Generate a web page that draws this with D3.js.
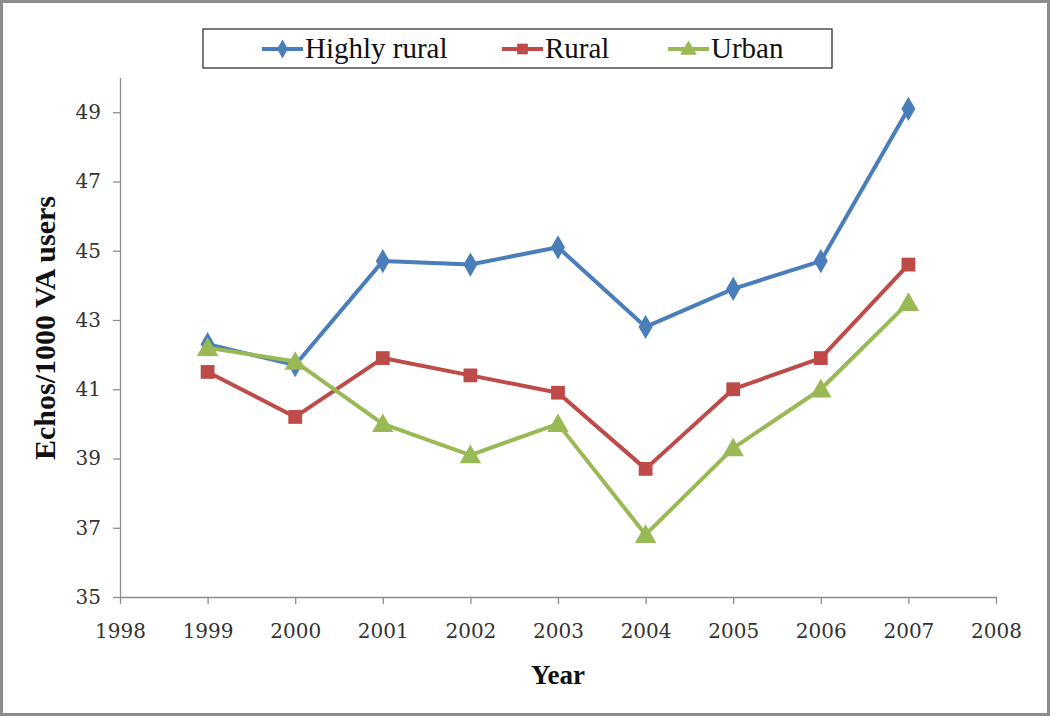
<!DOCTYPE html>
<html><head><meta charset="utf-8">
<script src="https://cdn.jsdelivr.net/npm/d3@7"></script>
<style>body{margin:0;background:#fff}svg{display:block}</style>
</head><body>
<svg id="c" width="1050" height="716"></svg>
<script>
const years = [1999,2000,2001,2002,2003,2004,2005,2006,2007];
const highlyRural = [42.3,41.7,44.7,44.6,45.1,42.8,43.9,44.7,49.1];
const rural = [41.5,40.2,41.9,41.4,40.9,38.7,41.0,41.9,44.6];
const urban = [42.2,41.8,40.0,39.1,40.0,36.8,39.3,41.0,43.5];
const seriesNames = ["Highly rural","Rural","Urban"];
const xTicks = [1998,1999,2000,2001,2002,2003,2004,2005,2006,2007,2008];
const yTicks = [35,37,39,41,43,45,47,49];

const svg = d3.select("#c");
const W=1050,H=716;
svg.append("rect").attr("x",1.5).attr("y",1.5).attr("width",W-3).attr("height",H-3)
  .attr("fill","#fff").attr("stroke","#8c8c8c").attr("stroke-width",3);

const x = d3.scaleLinear().domain([1998,2008]).range([120,996]);
const y = d3.scaleLinear().domain([35,50]).range([597,77.6]);
const serif = "'DejaVu Serif', serif";

const xAxis = svg.append("g").attr("transform","translate(0,597)")
  .call(d3.axisBottom(x).tickValues(xTicks).tickFormat(d3.format("d")).tickSize(7).tickSizeOuter(0));
const yAxis = svg.append("g").attr("transform","translate(120,0)")
  .call(d3.axisLeft(y).tickValues(yTicks).tickSize(7).tickSizeOuter(0));
[xAxis,yAxis].forEach(a=>{
  a.selectAll("path,line").attr("stroke","#8c8c8c").attr("stroke-width",1.3);
  a.selectAll("text").attr("font-family",serif).attr("font-size",20).attr("fill","#333");
});
xAxis.selectAll("text").attr("dy","1.55em");
yAxis.selectAll("text").attr("dx","-0.45em");

svg.append("text").attr("x",558).attr("y",684).attr("text-anchor","middle")
  .attr("font-family","'Liberation Serif', serif").attr("font-weight","bold").attr("font-size",27)
  .attr("fill","#111").text("Year");
svg.append("text").attr("transform","translate(55,328) rotate(-90)").attr("text-anchor","middle")
  .attr("font-family","'Liberation Serif', serif").attr("font-weight","bold").attr("font-size",30)
  .attr("fill","#111").text("Echos/1000 VA users");

const colors = ["#4a7ebb","#be4b48","#98b954"];
const data = [highlyRural,rural,urban];
const symbols = [d3.symbolDiamond, d3.symbolSquare, d3.symbolTriangle];
const symSizes = [170,190,200];
const line = d3.line().x((d,i)=>x(years[i])).y(d=>y(d));

data.forEach((s,k)=>{
  svg.append("path").datum(s).attr("d",line).attr("fill","none")
    .attr("stroke",colors[k]).attr("stroke-width",4).attr("stroke-linejoin","round");
});
data.forEach((s,k)=>{
  svg.append("g").selectAll("path").data(s).join("path")
    .attr("transform",(d,i)=>`translate(${x(years[i])},${y(d)+(k===2?2:0)})`)
    .attr("d",d3.symbol().type(symbols[k]).size(symSizes[k]))
    .attr("fill",colors[k]);
});

// legend
svg.append("rect").attr("x",203).attr("y",29).attr("width",629).attr("height",39)
  .attr("fill","#fff").attr("stroke","#333").attr("stroke-width",1.3);
const legX = [262,502,668];
seriesNames.forEach((n,k)=>{
  const g = svg.append("g").attr("transform",`translate(${legX[k]},49)`);
  g.append("line").attr("x1",0).attr("x2",41).attr("stroke",colors[k]).attr("stroke-width",4);
  g.append("path").attr("transform",`translate(20.5,${k===2?1:0})`)
    .attr("d",d3.symbol().type(symbols[k]).size(symSizes[k]*0.6)).attr("fill",colors[k]);
  g.append("text").attr("x",43).attr("y",9).attr("font-family","'Liberation Serif', serif")
    .attr("font-size",29).attr("fill","#111").text(n);
});
</script>
</body></html>
